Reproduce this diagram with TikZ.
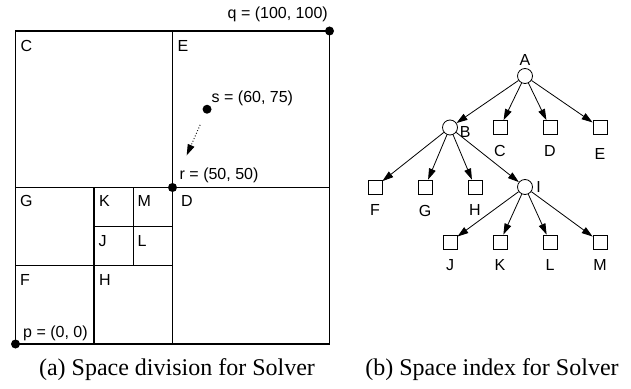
\documentclass[tikz,border=0pt]{standalone}
\usepackage{fontspec}
\setmainfont{Liberation Serif}
\setsansfont{Liberation Sans}
\usetikzlibrary{arrows.meta}

\begin{document}
\begin{tikzpicture}[x=1pt, y=1pt,
		font=\fontsize{16}{19}\selectfont\sffamily,
		dot/.style={circle, fill, inner sep=0pt, minimum size=9pt},
		cell/.style={anchor=base west, inner sep=0pt},
		inner/.style={circle, draw, line width=0.8pt, inner sep=0pt, minimum size=15pt},
		leaf/.style={rectangle, draw, line width=0.8pt, inner sep=0pt, minimum size=14pt},
		leafname/.style={yshift=-7pt},
		caption/.style={font=\fontsize{24}{28}\selectfont\rmfamily},
		tip/.style={-{Triangle[length=11pt,width=7pt]}},
		level 1/.style={sibling distance=50pt, level distance=51.5pt},
		level 2/.style={sibling distance=50pt, level distance=59.5pt},
		level 3/.style={sibling distance=50pt, level distance=55pt},
		edge from parent/.style={draw, line width=0.8pt, tip}
		]
	\useasboundingbox (0,0) rectangle (631,388);

	% space division, in units of the data space
	\begin{scope}[shift={(15.5,44)}, x=3.14pt, y=3.13pt, line width=1.2pt]
		\draw (0,0) rectangle (100,100);
		\draw (50,0) -- (50,100);
		\draw (0,50) -- (100,50);
		\draw (25,0) -- (25,50);
		\draw (0,25) -- (50,25);
		\draw (37.5,25) -- (37.5,50);
		\draw (25,37.5) -- (50,37.5);
		\node [dot] (p) at (0,0) {};
		\node [dot] (q) at (100,100) {};
		\node [dot] (r) at (50,50) {};
		\node [dot] (s) at (61,75) {};
		\draw [dotted, tip, line width=0.9pt, shorten <=12pt, shorten >=30pt] (s) -- (r);
	\end{scope}

	\foreach \n/\x/\y in {C/20.5/336.3, E/177.5/336.3, G/20/181.3, K/99/181.3,
			M/137.5/181.3, D/181/181.3, J/98.5/141.3, L/137.5/141.3, F/20/102.7, H/99/102.7}
		\node [cell] (cell\n) at (\x,\y) {\n};

	\node [cell] (qlbl) at (227.5,369.5) {q = (100, 100)};
	\node [cell] (slbl) at (211.5,285.7) {s = (60, 75)};
	\node [cell] (rlbl) at (179.5,208) {r = (50, 50)};
	\node [cell] (plbl) at (23,50.7) {p = (0, 0)};

	% space index tree
	\node [inner, parent anchor=south, label={[label distance=-1pt]above:A}] (tA) at (525,312) {}
	  child {
		node [inner, parent anchor=south, label={[xshift=-1.5pt, yshift=-4pt]right:B}] (tB) {}
			child { node [leaf, label={[leafname]below:F}] (tF) {} }
			child { node [leaf, label={[leafname]below:G}] (tG) {} }
			child { node [leaf, label={[leafname]below:H}] (tH) {} }
			child {
				node [inner, parent anchor=south, label=right:I] (tI) {}
					child { node [leaf, label={[leafname]below:J}] (tJ) {} }
					child { node [leaf, label={[leafname]below:K}] (tK) {} }
					child { node [leaf, label={[leafname]below:L}] (tL) {} }
					child { node [leaf, label={[leafname]below:M}] (tM) {} }
			}
	  }
	  child { node [leaf, label={[leafname]below:C}] (tC) {} }
	  child { node [leaf, label={[leafname]below:D}] (tD) {} }
	  child { node [leaf, label={[leafname, yshift=-3pt]below:E}] (tE) {} };

	\node [caption] (capA) at (177,18) {(a)\ Space division for Solver};
	\node [caption] (capB) at (492,18) {(b)\ Space index for Solver};
\end{tikzpicture}
\end{document}
